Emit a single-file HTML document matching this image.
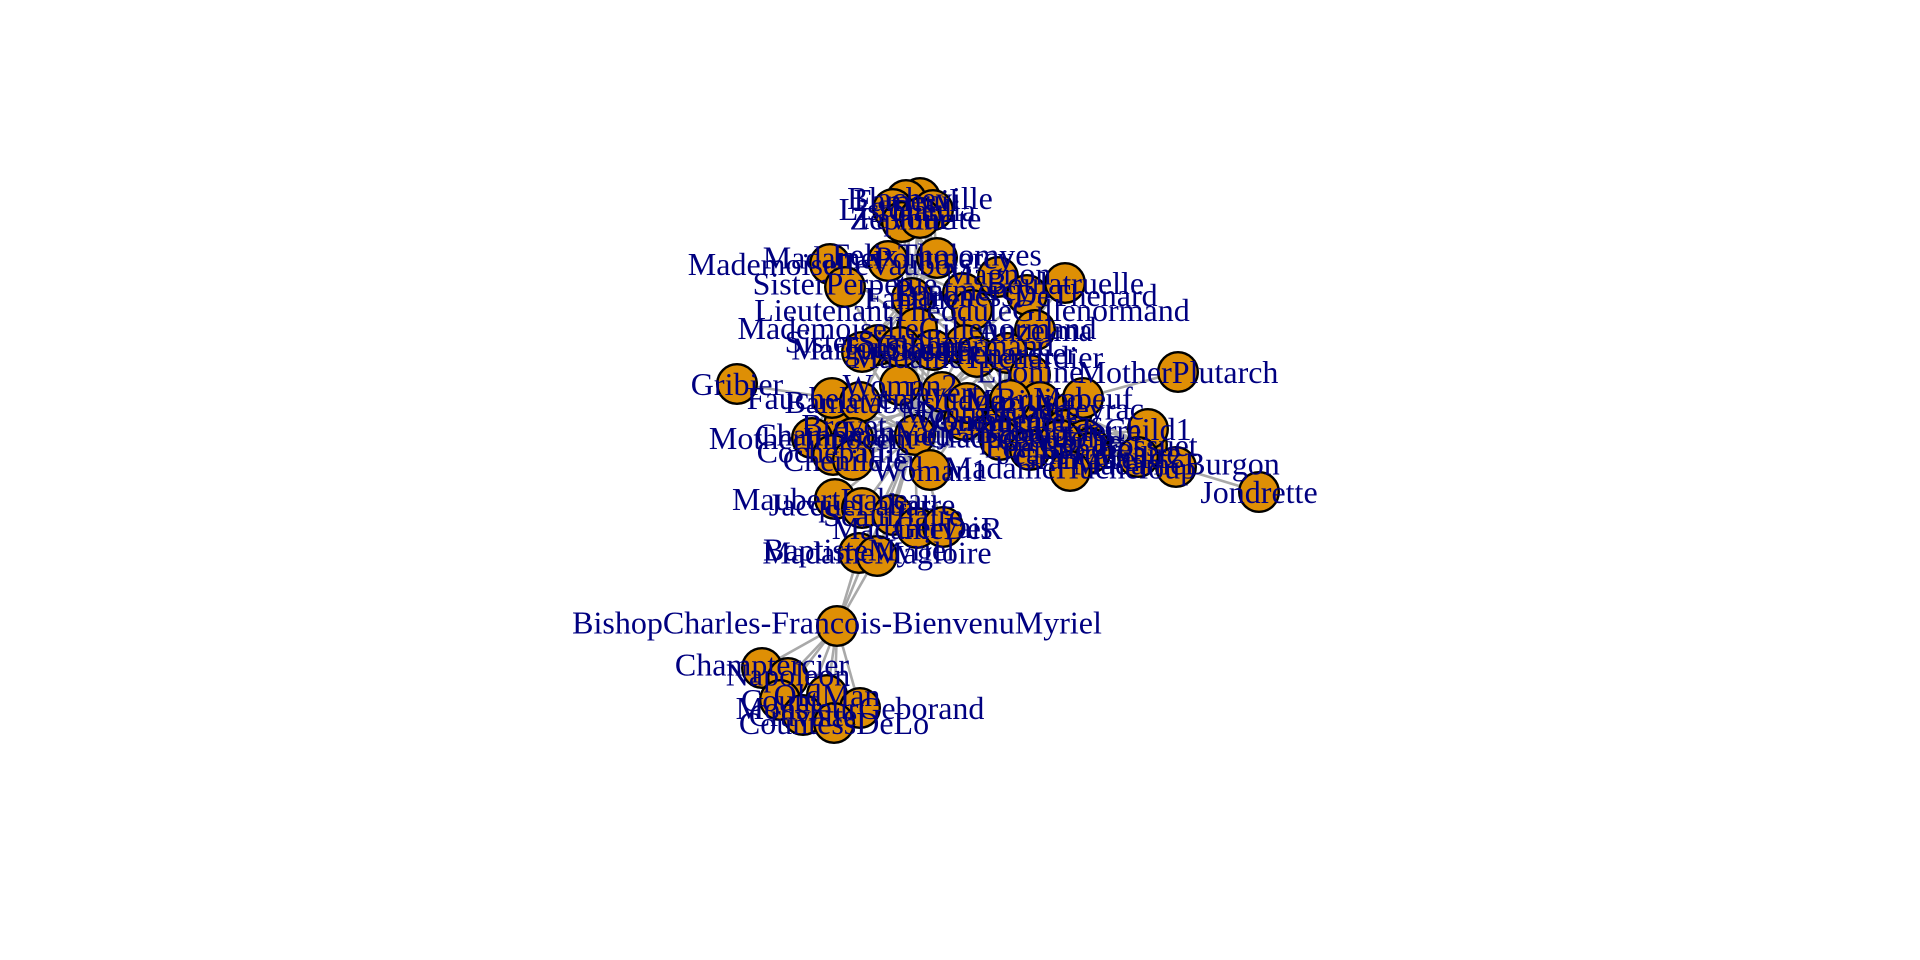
<!DOCTYPE html>
<html>
<head>
<meta charset="utf-8">
<title>Network graph</title>
<style>
html,body{margin:0;padding:0;background:#fff;width:1920px;height:960px;overflow:hidden}
svg{display:block}
text{font-family:"Liberation Serif",serif;font-size:32px;fill:#000080;text-anchor:middle}
</style>
</head>
<body>
<svg id="chart" width="1920" height="960" viewBox="0 0 1920 960">
<rect width="1920" height="960" fill="#fff"></rect>
<g id="edges"></g>
<g id="nodes"></g>
<g id="labels"></g>
</svg>
<script>
const nodeNames = ["Blacheville","Fameuil","Listolier","Dahlia","Zephine","Favourite","FelixTholomyes","MadamePontmercy","MademoiselleVaubois","Magnon","Boulatruelle","SisterPerpetue","Fantine","Pontmercy","BaronessDeThenard","LieutenantTheoduleGillenormand","MademoiselleGillenormand","Anzelma","Gillenormand","SisterSimplice","Marguerite","MadameThenardier","Toussaint","Cosette","Thenardier","Eponine","Woman2","Javert","Brevet","Fauchelevent","Bamatabois","JeanValjean","Montparnasse","Gueulemer","Babet","Claquesous","Brujon","Marius","Enjolras","Courfeyrac","Combeferre","Bossuet","Joly","Bahorel","Feuilly","Grantaire","JeanProuvaire","Mabeuf","Child1","Child2","Gavroche","MadameHucheloup","MadameBurgon","Jondrette","MotherPlutarch","Gribier","Woman","Judge","Woman1","MotherInnocent","Champmathieu","Cochepaille","Chenildieu","MaubertIsabeau","JacqueLabarre","Scaufflaire","MadameDeR","Gervais","BaptisteMyriel","MadameMagloire","BishopCharles-Francois-BienvenuMyriel","Champtercier","Napoleon","Count","OldMan","MonsieurGeborand","Cravatte","CountessDeLo"];
const layoutX = [2.20,2.06,1.93,2.33,2.02,2.20,2.37,1.88,1.30,2.98,3.65,1.45,2.12,2.63,3.27,2.72,2.17,3.35,2.65,1.78,1.62,2.77,2.00,2.33,3.07,3.30,2.00,2.42,1.44,1.32,1.60,2.15,2.90,3.05,3.15,3.00,3.40,3.10,3.50,3.72,3.65,4.47,3.85,3.90,3.30,3.75,3.90,3.83,4.48,4.38,3.60,3.70,4.76,5.59,4.78,0.37,2.64,2.67,2.30,1.12,1.53,1.33,1.53,1.35,1.62,1.93,2.17,2.43,1.59,1.77,1.37,0.62,0.88,0.80,1.27,1.60,1.03,1.34];
const layoutY = [6.02,6.00,5.91,5.90,5.78,5.82,5.42,5.39,5.36,5.23,5.17,5.13,5.02,5.07,5.05,4.90,4.72,4.70,4.55,4.55,4.48,4.43,4.53,4.50,4.47,4.25,4.15,4.08,3.75,4.02,3.98,3.65,3.85,3.80,3.68,3.60,3.98,4.00,3.75,3.88,3.70,3.55,3.60,3.52,3.50,3.42,3.47,4.02,3.71,3.43,3.60,3.29,3.33,3.08,4.28,4.16,3.80,3.97,3.30,3.62,3.62,3.45,3.40,3.01,2.92,2.85,2.72,2.73,2.47,2.44,1.74,1.32,1.22,1.00,1.05,0.92,0.85,0.77];
const edgePairs = ["Blacheville|Fameuil","Blacheville|Listolier","Blacheville|Dahlia","Blacheville|Zephine","Blacheville|Favourite","Blacheville|FelixTholomyes","Blacheville|Fantine","Fameuil|Listolier","Fameuil|Dahlia","Fameuil|Zephine","Fameuil|Favourite","Fameuil|FelixTholomyes","Fameuil|Fantine","Listolier|Dahlia","Listolier|Zephine","Listolier|Favourite","Listolier|FelixTholomyes","Listolier|Fantine","Dahlia|Zephine","Dahlia|Favourite","Dahlia|FelixTholomyes","Dahlia|Fantine","Zephine|Favourite","Zephine|FelixTholomyes","Zephine|Fantine","Favourite|FelixTholomyes","Favourite|Fantine","FelixTholomyes|Fantine","FelixTholomyes|Marguerite","FelixTholomyes|JeanValjean","Fantine|Marguerite","Fantine|JeanValjean","Fantine|MadameThenardier","Fantine|Thenardier","Fantine|Javert","Fantine|SisterSimplice","Fantine|Bamatabois","MadamePontmercy|Pontmercy","MademoiselleVaubois|MademoiselleGillenormand","Magnon|MadameThenardier","Magnon|Gillenormand","Boulatruelle|Thenardier","SisterPerpetue|SisterSimplice","Pontmercy|Marius","Pontmercy|Thenardier","Pontmercy|Gillenormand","BaronessDeThenard|Gillenormand","BaronessDeThenard|Marius","LieutenantTheoduleGillenormand|Gillenormand","LieutenantTheoduleGillenormand|MademoiselleGillenormand","LieutenantTheoduleGillenormand|Marius","LieutenantTheoduleGillenormand|Cosette","MademoiselleGillenormand|Gillenormand","MademoiselleGillenormand|Cosette","MademoiselleGillenormand|JeanValjean","MademoiselleGillenormand|Marius","Anzelma|Thenardier","Anzelma|MadameThenardier","Anzelma|Eponine","Gillenormand|Cosette","Gillenormand|JeanValjean","Gillenormand|Marius","SisterSimplice|JeanValjean","SisterSimplice|Javert","SisterSimplice|Woman2","Marguerite|JeanValjean","MadameThenardier|Thenardier","MadameThenardier|Cosette","MadameThenardier|Eponine","MadameThenardier|JeanValjean","MadameThenardier|Javert","MadameThenardier|Babet","MadameThenardier|Claquesous","Toussaint|Cosette","Toussaint|Javert","Toussaint|JeanValjean","Cosette|Marius","Cosette|JeanValjean","Cosette|Javert","Cosette|Woman2","Cosette|Thenardier","Thenardier|Javert","Thenardier|Eponine","Thenardier|JeanValjean","Thenardier|Marius","Thenardier|Gavroche","Thenardier|Babet","Thenardier|Gueulemer","Thenardier|Claquesous","Thenardier|Montparnasse","Thenardier|Brujon","Eponine|Marius","Eponine|Enjolras","Eponine|Courfeyrac","Eponine|Combeferre","Eponine|Gavroche","Eponine|Brujon","Eponine|Montparnasse","Eponine|Babet","Eponine|Gueulemer","Eponine|Claquesous","Woman2|JeanValjean","Woman2|Javert","Javert|JeanValjean","Javert|Fauchelevent","Javert|Bamatabois","Javert|Gavroche","Javert|Enjolras","Javert|Woman1","Javert|Montparnasse","Javert|Babet","Javert|Gueulemer","Javert|Claquesous","Javert|Brujon","Javert|Judge","Javert|Champmathieu","Fauchelevent|JeanValjean","Fauchelevent|Gribier","Fauchelevent|MotherInnocent","Bamatabois|JeanValjean","Bamatabois|Judge","Bamatabois|Champmathieu","Bamatabois|Brevet","Bamatabois|Chenildieu","Bamatabois|Cochepaille","JeanValjean|Marius","JeanValjean|Enjolras","JeanValjean|Gavroche","JeanValjean|Woman1","JeanValjean|Woman","JeanValjean|Judge","JeanValjean|Champmathieu","JeanValjean|Brevet","JeanValjean|Chenildieu","JeanValjean|Cochepaille","JeanValjean|MaubertIsabeau","JeanValjean|JacqueLabarre","JeanValjean|Scaufflaire","JeanValjean|MadameDeR","JeanValjean|Gervais","JeanValjean|BaptisteMyriel","JeanValjean|MadameMagloire","JeanValjean|BishopCharles-Francois-BienvenuMyriel","JeanValjean|MotherInnocent","JeanValjean|Thenardier","JeanValjean|Montparnasse","JeanValjean|Gueulemer","JeanValjean|Babet","JeanValjean|Claquesous","Woman|Woman1","Montparnasse|Babet","Montparnasse|Gueulemer","Montparnasse|Claquesous","Montparnasse|Brujon","Montparnasse|Gavroche","Gueulemer|Babet","Gueulemer|Claquesous","Gueulemer|Brujon","Gueulemer|Gavroche","Babet|Claquesous","Babet|Brujon","Babet|Gavroche","Claquesous|Brujon","Claquesous|Enjolras","Brujon|Gavroche","Marius|Enjolras","Marius|Courfeyrac","Marius|Combeferre","Marius|Bossuet","Marius|Joly","Marius|Bahorel","Marius|Feuilly","Marius|Gavroche","Marius|Mabeuf","Marius|JeanProuvaire","Enjolras|Courfeyrac","Enjolras|Combeferre","Enjolras|Bossuet","Enjolras|Joly","Enjolras|Bahorel","Enjolras|Feuilly","Enjolras|Gavroche","Enjolras|Grantaire","Enjolras|Mabeuf","Enjolras|JeanProuvaire","Courfeyrac|Combeferre","Courfeyrac|Bossuet","Courfeyrac|Joly","Courfeyrac|Bahorel","Courfeyrac|Feuilly","Courfeyrac|Gavroche","Courfeyrac|Grantaire","Courfeyrac|Mabeuf","Courfeyrac|MadameHucheloup","Combeferre|Bossuet","Combeferre|Joly","Combeferre|Bahorel","Combeferre|Feuilly","Combeferre|Gavroche","Combeferre|Grantaire","Combeferre|Mabeuf","Bossuet|Joly","Bossuet|Bahorel","Bossuet|Feuilly","Bossuet|Gavroche","Bossuet|Grantaire","Bossuet|MadameHucheloup","Joly|Bahorel","Joly|Feuilly","Joly|Gavroche","Joly|Grantaire","Joly|MadameHucheloup","Bahorel|Feuilly","Bahorel|Gavroche","Bahorel|Grantaire","Bahorel|MadameHucheloup","Feuilly|Gavroche","Feuilly|Grantaire","Feuilly|Mabeuf","Grantaire|Gavroche","Grantaire|MadameHucheloup","Mabeuf|Gavroche","Mabeuf|MotherPlutarch","Gavroche|Child1","Gavroche|Child2","Gavroche|MadameHucheloup","Gavroche|MadameBurgon","Child1|Child2","Child1|MadameBurgon","Child2|MadameBurgon","MadameBurgon|Jondrette","Judge|Champmathieu","Judge|Brevet","Judge|Chenildieu","Judge|Cochepaille","Champmathieu|Brevet","Champmathieu|Chenildieu","Champmathieu|Cochepaille","Brevet|Chenildieu","Brevet|Cochepaille","Chenildieu|Cochepaille","BaptisteMyriel|MadameMagloire","BaptisteMyriel|BishopCharles-Francois-BienvenuMyriel","MadameMagloire|BishopCharles-Francois-BienvenuMyriel","BishopCharles-Francois-BienvenuMyriel|Napoleon","BishopCharles-Francois-BienvenuMyriel|MonsieurGeborand","BishopCharles-Francois-BienvenuMyriel|Champtercier","BishopCharles-Francois-BienvenuMyriel|Cravatte","BishopCharles-Francois-BienvenuMyriel|Count","BishopCharles-Francois-BienvenuMyriel|OldMan","BishopCharles-Francois-BienvenuMyriel|CountessDeLo"];

const xAxis = v => 700 + 100 * v;
const yAxis = v => 800 - 100 * v;
const NS = "http://www.w3.org/2000/svg";

const edgeLayer = document.getElementById("edges");
const nodeLayer = document.getElementById("nodes");
const labelLayer = document.getElementById("labels");

edgePairs.forEach(pair => {
  const parts = pair.split("|");
  const a = nodeNames.indexOf(parts[0]);
  const b = nodeNames.indexOf(parts[1]);
  if (a < 0 || b < 0) return;
  const line = document.createElementNS(NS, "line");
  line.setAttribute("x1", xAxis(layoutX[a]));
  line.setAttribute("y1", yAxis(layoutY[a]));
  line.setAttribute("x2", xAxis(layoutX[b]));
  line.setAttribute("y2", yAxis(layoutY[b]));
  line.setAttribute("stroke", "#a9a9a9");
  line.setAttribute("stroke-width", "2.6");
  
  
  edgeLayer.appendChild(line);
});

nodeNames.forEach((name, i) => {
  const c = document.createElementNS(NS, "circle");
  c.setAttribute("cx", xAxis(layoutX[i]));
  c.setAttribute("cy", yAxis(layoutY[i]));
  c.setAttribute("r", "19.8");
  c.setAttribute("fill", "#de8f05");
  c.setAttribute("stroke", "#000");
  c.setAttribute("stroke-width", "2.4");
  
  
  nodeLayer.appendChild(c);
});

nodeNames.forEach((name, i) => {
  const t = document.createElementNS(NS, "text");
  t.setAttribute("x", xAxis(layoutX[i]));
  t.setAttribute("y", yAxis(layoutY[i]) + (/[gjpqy]/.test(name) ? 7.5 : 11));
  
  
  t.textContent = name;
  labelLayer.appendChild(t);
});
</script>
</body>
</html>
